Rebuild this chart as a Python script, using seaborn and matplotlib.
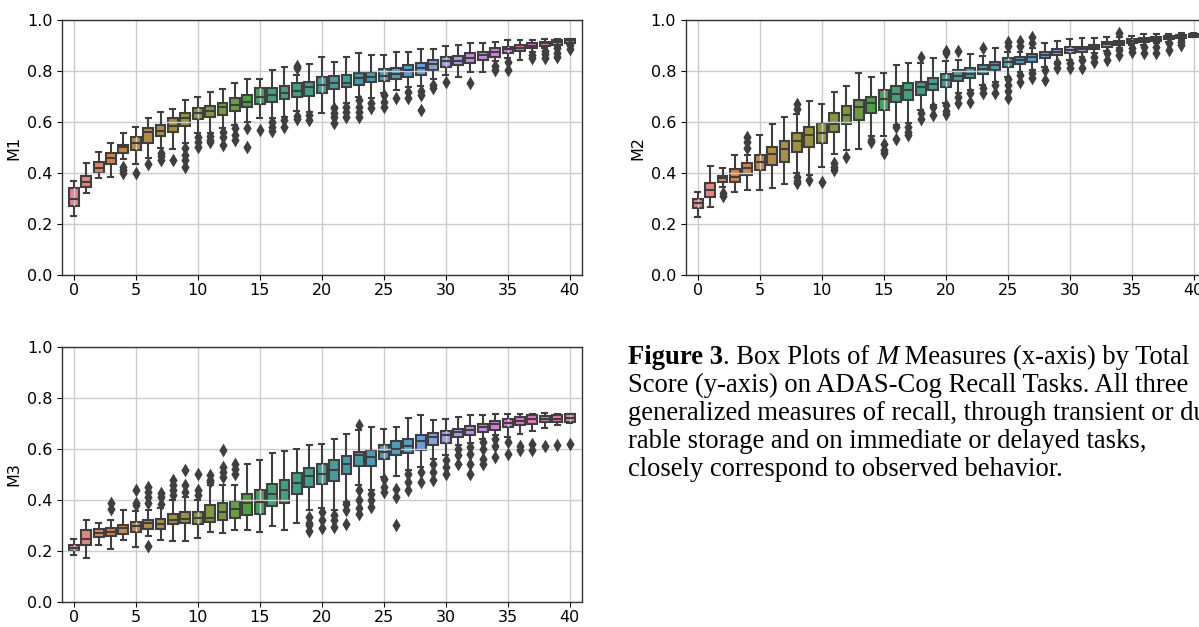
import numpy as np
import pandas as pd
import seaborn as sns
import matplotlib.pyplot as plt

scores = [str(s) for s in range(41)]

# M1 box summaries (whisker low, q1, median, q3, whisker high) per total score
m1_lo = [0.23, 0.323, 0.382, 0.386, 0.455, 0.435, 0.46, 0.497, 0.493, 0.516, 0.556, 0.558, 0.575, 0.588,
         0.601, 0.614, 0.614, 0.62, 0.645, 0.64, 0.637, 0.66, 0.673, 0.697, 0.693, 0.712, 0.725, 0.736,
         0.741, 0.767, 0.784, 0.778, 0.797, 0.797, 0.84, 0.85, 0.843, 0.876, 0.889, 0.895, 0.907]
m1_q1 = [0.27, 0.346, 0.399, 0.435, 0.477, 0.49, 0.516, 0.545, 0.562, 0.584, 0.61, 0.621, 0.627, 0.643,
         0.658, 0.67, 0.68, 0.689, 0.699, 0.703, 0.715, 0.728, 0.736, 0.745, 0.758, 0.762, 0.769, 0.778,
         0.784, 0.804, 0.817, 0.824, 0.833, 0.843, 0.856, 0.869, 0.88, 0.889, 0.898, 0.902, 0.911]
m1_med = [0.30, 0.366, 0.421, 0.457, 0.503, 0.516, 0.562, 0.566, 0.584, 0.614, 0.634, 0.643, 0.658, 0.667,
          0.68, 0.699, 0.706, 0.712, 0.723, 0.736, 0.745, 0.754, 0.754, 0.771, 0.778, 0.78, 0.788, 0.804,
          0.81, 0.826, 0.839, 0.84, 0.852, 0.863, 0.876, 0.885, 0.89, 0.9, 0.908, 0.915, 0.92]
m1_q3 = [0.34, 0.39, 0.444, 0.477, 0.51, 0.54, 0.575, 0.588, 0.614, 0.637, 0.654, 0.663, 0.673, 0.695,
         0.706, 0.732, 0.732, 0.741, 0.752, 0.758, 0.775, 0.781, 0.784, 0.793, 0.797, 0.807, 0.81, 0.824,
         0.833, 0.843, 0.856, 0.859, 0.869, 0.876, 0.889, 0.895, 0.902, 0.908, 0.915, 0.922, 0.924]
m1_hi = [0.369, 0.438, 0.484, 0.516, 0.558, 0.582, 0.614, 0.64, 0.652, 0.686, 0.697, 0.719, 0.728, 0.752,
         0.769, 0.769, 0.804, 0.817, 0.785, 0.827, 0.853, 0.834, 0.853, 0.869, 0.863, 0.863, 0.876, 0.876,
         0.886, 0.886, 0.898, 0.902, 0.908, 0.911, 0.915, 0.922, 0.922, 0.92, 0.924, 0.925, 0.927]
m1_out = {4: [0.425, 0.41, 0.40], 5: [0.399], 6: [0.435], 7: [0.48, 0.465, 0.45], 8: [0.451],
          9: [0.497, 0.47, 0.45, 0.425], 10: [0.54, 0.52, 0.503], 11: [0.545, 0.53, 0.52],
          12: [0.56, 0.54, 0.51], 13: [0.575, 0.55, 0.53], 14: [0.575, 0.503], 15: [0.569],
          16: [0.601, 0.58, 0.565], 17: [0.608, 0.582], 18: [0.81, 0.82, 0.625, 0.61], 19: [0.627, 0.608],
          21: [0.654, 0.635, 0.62, 0.595], 22: [0.66, 0.64, 0.62], 23: [0.686, 0.66, 0.64, 0.62],
          24: [0.673, 0.654], 25: [0.706, 0.68, 0.66], 26: [0.693], 27: [0.719, 0.693],
          28: [0.723, 0.706, 0.647], 29: [0.745, 0.732], 30: [0.758], 32: [0.752], 34: [0.82, 0.805],
          35: [0.837, 0.804], 37: [0.863, 0.85], 38: [0.88, 0.865, 0.85], 39: [0.889, 0.87, 0.856],
          40: [0.902, 0.885]}

# M2
m2_lo = [0.226, 0.265, 0.345, 0.324, 0.333, 0.333, 0.34, 0.356, 0.40, 0.392, 0.425, 0.475, 0.49, 0.493,
         0.545, 0.545, 0.588, 0.595, 0.647, 0.667, 0.673, 0.712, 0.725, 0.745, 0.758, 0.778, 0.797, 0.804,
         0.817, 0.837, 0.843, 0.856, 0.869, 0.88, 0.889, 0.902, 0.902, 0.908, 0.915, 0.922, 0.932]
m2_q1 = [0.261, 0.307, 0.366, 0.366, 0.392, 0.412, 0.431, 0.444, 0.484, 0.503, 0.516, 0.562, 0.592, 0.608,
         0.634, 0.647, 0.677, 0.686, 0.706, 0.725, 0.739, 0.762, 0.771, 0.788, 0.804, 0.817, 0.827, 0.837,
         0.85, 0.863, 0.872, 0.876, 0.885, 0.895, 0.902, 0.911, 0.915, 0.919, 0.924, 0.928, 0.935]
m2_med = [0.281, 0.333, 0.379, 0.386, 0.418, 0.444, 0.474, 0.493, 0.527, 0.549, 0.558, 0.592, 0.627, 0.658,
          0.673, 0.69, 0.71, 0.725, 0.736, 0.749, 0.765, 0.78, 0.788, 0.808, 0.824, 0.837, 0.843, 0.854,
          0.863, 0.876, 0.882, 0.886, 0.893, 0.905, 0.911, 0.919, 0.922, 0.925, 0.931, 0.935, 0.94]
m2_q3 = [0.297, 0.362, 0.388, 0.414, 0.438, 0.47, 0.503, 0.527, 0.556, 0.582, 0.595, 0.634, 0.663, 0.686,
         0.699, 0.725, 0.741, 0.752, 0.758, 0.771, 0.788, 0.804, 0.81, 0.824, 0.837, 0.85, 0.856, 0.867,
         0.876, 0.885, 0.893, 0.895, 0.902, 0.912, 0.918, 0.924, 0.928, 0.932, 0.937, 0.941, 0.945]
m2_hi = [0.327, 0.427, 0.418, 0.47, 0.47, 0.549, 0.592, 0.621, 0.63, 0.684, 0.67, 0.718, 0.741, 0.793,
         0.775, 0.791, 0.824, 0.833, 0.83, 0.852, 0.84, 0.845, 0.867, 0.86, 0.889, 0.875, 0.875, 0.89,
         0.908, 0.919, 0.924, 0.928, 0.928, 0.932, 0.935, 0.939, 0.944, 0.944, 0.945, 0.948, 0.95]
m2_out = {2: [0.32, 0.31], 4: [0.50, 0.52, 0.54], 8: [0.65, 0.67, 0.385, 0.37, 0.36], 9: [0.373],
          10: [0.366], 11: [0.44, 0.425, 0.41], 12: [0.464], 14: [0.53, 0.52], 15: [0.514, 0.49, 0.477],
          16: [0.58, 0.535], 17: [0.58, 0.56, 0.55], 18: [0.855, 0.634, 0.61], 19: [0.66, 0.627],
          20: [0.88, 0.87, 0.667, 0.645, 0.63], 21: [0.88, 0.70, 0.673], 22: [0.712, 0.68],
          23: [0.889, 0.732, 0.712], 24: [0.745, 0.712], 25: [0.915, 0.90, 0.767, 0.745, 0.72, 0.693],
          26: [0.919, 0.90, 0.784, 0.758], 27: [0.935, 0.908, 0.793, 0.771], 28: [0.804, 0.765],
          29: [0.83, 0.81], 30: [0.83, 0.81], 31: [0.843, 0.81], 32: [0.856, 0.837], 33: [0.869, 0.843],
          34: [0.948, 0.882, 0.863], 35: [0.889, 0.876], 36: [0.895, 0.869], 37: [0.895, 0.869],
          38: [0.908, 0.882], 39: [0.915, 0.902]}

# M3
m3_lo = [0.183, 0.173, 0.222, 0.209, 0.242, 0.216, 0.26, 0.242, 0.239, 0.239, 0.252, 0.275, 0.271, 0.281,
         0.281, 0.275, 0.297, 0.284, 0.311, 0.36, 0.37, 0.362, 0.392, 0.46, 0.44, 0.49, 0.494, 0.516,
         0.53, 0.56, 0.575, 0.615, 0.625, 0.64, 0.655, 0.647, 0.66, 0.671, 0.684, 0.693, 0.703]
m3_q1 = [0.2, 0.222, 0.255, 0.259, 0.268, 0.275, 0.288, 0.288, 0.305, 0.31, 0.307, 0.314, 0.323, 0.331,
         0.34, 0.344, 0.376, 0.39, 0.425, 0.451, 0.461, 0.475, 0.503, 0.532, 0.532, 0.562, 0.578, 0.584,
         0.597, 0.614, 0.624, 0.647, 0.654, 0.667, 0.676, 0.686, 0.693, 0.699, 0.706, 0.706, 0.706]
m3_med = [0.213, 0.248, 0.271, 0.275, 0.292, 0.297, 0.31, 0.307, 0.323, 0.327, 0.331, 0.331, 0.353, 0.363,
          0.388, 0.392, 0.425, 0.438, 0.467, 0.493, 0.503, 0.516, 0.542, 0.575, 0.569, 0.588, 0.601, 0.61,
          0.631, 0.647, 0.654, 0.667, 0.673, 0.686, 0.697, 0.703, 0.71, 0.716, 0.719, 0.719, 0.723]
m3_q3 = [0.225, 0.281, 0.285, 0.292, 0.303, 0.314, 0.32, 0.327, 0.344, 0.353, 0.353, 0.379, 0.39, 0.395,
         0.425, 0.438, 0.461, 0.48, 0.506, 0.527, 0.54, 0.556, 0.571, 0.588, 0.595, 0.614, 0.631, 0.64,
         0.654, 0.663, 0.671, 0.68, 0.689, 0.699, 0.71, 0.719, 0.725, 0.732, 0.728, 0.732, 0.736]
m3_hi = [0.246, 0.32, 0.311, 0.32, 0.359, 0.355, 0.36, 0.37, 0.40, 0.41, 0.40, 0.46, 0.46, 0.46, 0.54,
         0.556, 0.584, 0.592, 0.601, 0.617, 0.621, 0.641, 0.66, 0.675, 0.686, 0.68, 0.686, 0.723, 0.732,
         0.712, 0.716, 0.725, 0.732, 0.732, 0.736, 0.736, 0.739, 0.739, 0.741, 0.739, 0.739]
m3_out = {3: [0.388, 0.366], 5: [0.44, 0.39, 0.38], 6: [0.45, 0.43, 0.41, 0.39, 0.22],
          7: [0.427, 0.41, 0.385], 8: [0.48, 0.46, 0.44, 0.42], 9: [0.519, 0.46, 0.43],
          10: [0.503, 0.44, 0.42], 11: [0.497, 0.48, 0.47], 12: [0.595, 0.53, 0.51, 0.49],
          13: [0.54, 0.52, 0.50], 19: [0.333, 0.31, 0.30, 0.28], 20: [0.353, 0.32, 0.29],
          21: [0.34, 0.32, 0.294], 22: [0.386, 0.36, 0.307], 23: [0.693, 0.44, 0.40, 0.37, 0.346],
          24: [0.425, 0.40, 0.373], 25: [0.484, 0.45, 0.43], 26: [0.444, 0.41, 0.301],
          27: [0.503, 0.47, 0.44], 28: [0.51, 0.47], 29: [0.542, 0.51, 0.477], 30: [0.558, 0.53, 0.503],
          31: [0.601, 0.575, 0.542], 32: [0.608, 0.58, 0.542, 0.503], 33: [0.627, 0.6, 0.56, 0.542],
          34: [0.64, 0.61, 0.57], 35: [0.627, 0.582], 36: [0.61, 0.595], 37: [0.62, 0.595], 38: [0.61],
          39: [0.614], 40: [0.621]}

caption_lines = ["Score (y-axis) on ADAS-Cog Recall Tasks. All three",
                 "generalized measures of recall, through transient or du-",
                 "rable storage and on immediate or delayed tasks,",
                 "closely correspond to observed behavior."]

gray = '#3f3f3f'
pal = sns.color_palette('husl', len(scores))

plt.rcParams['font.size'] = 11.5
plt.rcParams['axes.edgecolor'] = '0.2'
plt.rcParams['axes.linewidth'] = 1.0


def plot_panel(ax, lo, q1, med, q3, hi, out, name):
    # five-number table per score; whis=(0, 100) puts the whiskers at lo / hi
    box_df = pd.DataFrame({'score': np.repeat(scores, 5),
                           'value': np.column_stack([lo, q1, med, q3, hi]).ravel()})
    sns.boxplot(data=box_df, x='score', y='value', hue='score', order=scores, hue_order=scores,
                palette=pal, legend=False, whis=(0, 100), showfliers=False, width=0.8,
                linecolor=gray, linewidth=1.5, saturation=0.75, boxprops={'zorder': 1}, ax=ax)
    out_df = pd.DataFrame([(str(s), v) for s, vals in out.items() for v in vals],
                          columns=['score', 'value'])
    sns.stripplot(data=out_df, x='score', y='value', order=scores, jitter=False, marker='d',
                  color=gray, size=7, zorder=3, ax=ax)
    ax.set_ylim(0, 1)
    ax.set_yticks([0, 0.2, 0.4, 0.6, 0.8, 1.0])
    ax.set_xlim(-0.95, 41.0)
    ax.set_xticks(range(0, 41, 5))
    ax.set_xticklabels([str(t) for t in range(0, 41, 5)])
    ax.tick_params(axis='x', pad=2.5)
    ax.grid(True, color='0.8', linewidth=1.0)
    ax.set_xlabel('')
    ax.set_ylabel(name)


fig = plt.figure(figsize=(11.99, 6.27), dpi=100)
ax1 = fig.add_axes([0.0517, 0.5614, 0.4337, 0.4067])
ax2 = fig.add_axes([0.5721, 0.5614, 0.4337, 0.4067])
ax3 = fig.add_axes([0.0517, 0.0399, 0.4337, 0.4067])

plot_panel(ax1, m1_lo, m1_q1, m1_med, m1_q3, m1_hi, m1_out, 'M1')
plot_panel(ax2, m2_lo, m2_q1, m2_med, m2_q3, m2_hi, m2_out, 'M2')
plot_panel(ax3, m3_lo, m3_q1, m3_med, m3_q3, m3_hi, m3_out, 'M3')

# caption
tax = fig.add_axes([0, 0, 1, 1])
tax.axis('off')
serif = 'Liberation Serif'
fs = 19.2
x0 = 628 / 1199
y0 = 1 - 364 / 627
t1 = tax.text(x0, y0, 'Figure 3', fontweight='bold', family=serif, fontsize=fs,
              va='baseline', transform=fig.transFigure)
t2 = tax.annotate('. Box Plots of ', xy=(1, 0), xycoords=t1, va='bottom', family=serif, fontsize=fs)
t3 = tax.annotate('M', xy=(1, 0), xycoords=t2, va='bottom', family=serif, fontsize=fs, style='italic')
t4 = tax.annotate(' Measures (x-axis) by Total', xy=(1, 0), xycoords=t3, va='bottom',
                  family=serif, fontsize=fs)
for i, line in enumerate(caption_lines):
    tax.text(x0, y0 - (i + 1) * 28 / 627, line, family=serif, fontsize=fs,
             va='baseline', transform=fig.transFigure)

plt.savefig('out.png', dpi=100)
